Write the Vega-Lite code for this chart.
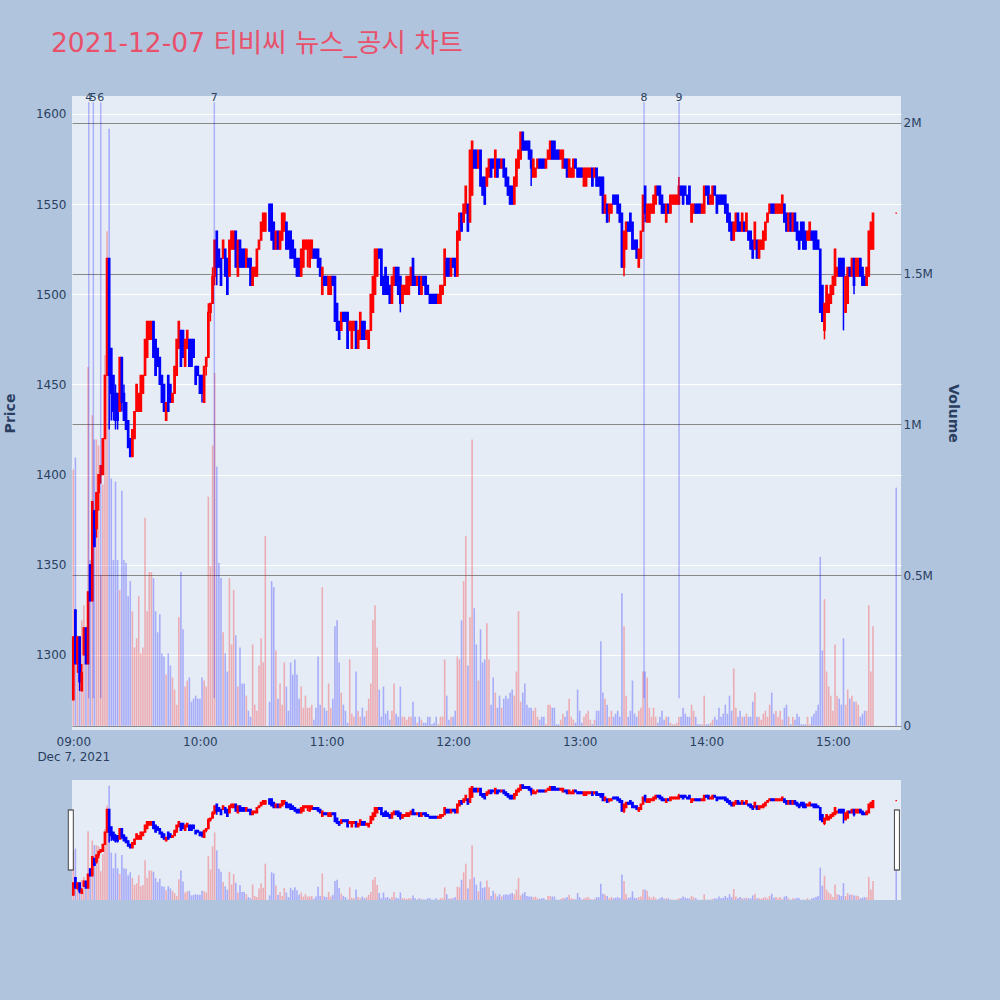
{
"$schema": "https://vega.github.io/schema/vega-lite/v6.json",
"background": "#b0c4de",
"padding": {"left": 3, "top": 30, "right": 41, "bottom": 100},
"title": {"text": "2021-12-07 티비씨 뉴스_공시 차트", "anchor": "start", "frame": "group", "dx": -21, "offset": 35, "fontSize": 26.5, "font": "DejaVu Sans, Noto Sans CJK KR", "fontWeight": "normal", "color": "#e9506a"},
"config": {
  "view": {"stroke": null, "fill": "#e5ecf6"},
  "axis": {"labelFont": "DejaVu Sans", "labelFontSize": 12, "labelColor": "#2a3f5f", "titleFont": "DejaVu Sans", "titleFontSize": 14, "titleFontWeight": "bold", "titleColor": "#2a3f5f", "domain": false, "ticks": false}
},
"bounds": "flush",
"spacing": 50,
"data": {"format": {"parse": {"t": "utc:'%H:%M'"}}, "values": [
{"t":"09:00","o":1275,"h":1310,"l":1275,"c":1310,"v":850000},
{"t":"09:01","o":1325,"h":1325,"l":1295,"c":1295,"v":890000},
{"t":"09:02","o":1295,"h":1310,"l":1290,"c":1310,"v":300000},
{"t":"09:03","o":1310,"h":1310,"l":1280,"c":1285,"v":220000},
{"t":"09:04","o":1280,"h":1295,"l":1280,"c":1290,"v":350000},
{"t":"09:05","o":1300,"h":1315,"l":1300,"c":1315,"v":400000},
{"t":"09:06","o":1315,"h":1315,"l":1295,"c":1295,"v":300000},
{"t":"09:07","o":1295,"h":1335,"l":1295,"c":1335,"v":1190000},
{"t":"09:08","o":1350,"h":1350,"l":1330,"c":1330,"v":550000},
{"t":"09:09","o":1330,"h":1385,"l":1330,"c":1385,"v":1030000},
{"t":"09:10","o":1380,"h":1380,"l":1360,"c":1360,"v":950000},
{"t":"09:11","o":1370,"h":1390,"l":1365,"c":1390,"v":950000},
{"t":"09:12","o":1390,"h":1400,"l":1380,"c":1400,"v":930000},
{"t":"09:13","o":1400,"h":1405,"l":1395,"c":1405,"v":500000},
{"t":"09:14","o":1400,"h":1420,"l":1400,"c":1420,"v":800000},
{"t":"09:15","o":1420,"h":1455,"l":1420,"c":1455,"v":1230000},
{"t":"09:16","o":1455,"h":1520,"l":1455,"c":1520,"v":1640000},
{"t":"09:17","o":1520,"h":1520,"l":1425,"c":1455,"v":1980000},
{"t":"09:18","o":1470,"h":1470,"l":1430,"c":1445,"v":820000},
{"t":"09:19","o":1455,"h":1455,"l":1430,"c":1435,"v":550000},
{"t":"09:20","o":1445,"h":1450,"l":1425,"c":1430,"v":810000},
{"t":"09:21","o":1445,"h":1445,"l":1425,"c":1430,"v":550000},
{"t":"09:22","o":1435,"h":1465,"l":1435,"c":1465,"v":450000},
{"t":"09:23","o":1465,"h":1465,"l":1435,"c":1440,"v":780000},
{"t":"09:24","o":1445,"h":1450,"l":1430,"c":1430,"v":550000},
{"t":"09:25","o":1440,"h":1440,"l":1425,"c":1425,"v":540000},
{"t":"09:26","o":1430,"h":1430,"l":1415,"c":1415,"v":430000},
{"t":"09:27","o":1420,"h":1420,"l":1410,"c":1410,"v":480000},
{"t":"09:28","o":1410,"h":1425,"l":1410,"c":1425,"v":380000},
{"t":"09:29","o":1420,"h":1435,"l":1420,"c":1435,"v":260000},
{"t":"09:30","o":1435,"h":1450,"l":1435,"c":1450,"v":290000},
{"t":"09:31","o":1435,"h":1445,"l":1435,"c":1445,"v":430000},
{"t":"09:32","o":1435,"h":1455,"l":1435,"c":1455,"v":240000},
{"t":"09:33","o":1445,"h":1455,"l":1445,"c":1455,"v":260000},
{"t":"09:34","o":1455,"h":1475,"l":1455,"c":1475,"v":690000},
{"t":"09:35","o":1465,"h":1485,"l":1465,"c":1485,"v":380000},
{"t":"09:36","o":1475,"h":1485,"l":1475,"c":1485,"v":510000},
{"t":"09:37","o":1475,"h":1485,"l":1475,"c":1485,"v":510000},
{"t":"09:38","o":1485,"h":1485,"l":1465,"c":1465,"v":490000},
{"t":"09:39","o":1475,"h":1475,"l":1455,"c":1455,"v":380000},
{"t":"09:40","o":1470,"h":1470,"l":1460,"c":1460,"v":310000},
{"t":"09:41","o":1465,"h":1465,"l":1450,"c":1450,"v":370000},
{"t":"09:42","o":1455,"h":1455,"l":1440,"c":1440,"v":240000},
{"t":"09:43","o":1450,"h":1450,"l":1435,"c":1435,"v":230000},
{"t":"09:44","o":1430,"h":1440,"l":1430,"c":1440,"v":170000},
{"t":"09:45","o":1455,"h":1455,"l":1435,"c":1435,"v":240000},
{"t":"09:46","o":1450,"h":1450,"l":1440,"c":1440,"v":200000},
{"t":"09:47","o":1440,"h":1445,"l":1440,"c":1445,"v":160000},
{"t":"09:48","o":1445,"h":1460,"l":1445,"c":1460,"v":120000},
{"t":"09:49","o":1455,"h":1475,"l":1455,"c":1475,"v":70000},
{"t":"09:50","o":1470,"h":1485,"l":1470,"c":1485,"v":360000},
{"t":"09:51","o":1480,"h":1480,"l":1460,"c":1460,"v":510000},
{"t":"09:52","o":1480,"h":1480,"l":1465,"c":1465,"v":320000},
{"t":"09:53","o":1460,"h":1475,"l":1460,"c":1475,"v":130000},
{"t":"09:54","o":1470,"h":1480,"l":1470,"c":1480,"v":150000},
{"t":"09:55","o":1475,"h":1475,"l":1460,"c":1460,"v":160000},
{"t":"09:56","o":1475,"h":1475,"l":1460,"c":1460,"v":80000},
{"t":"09:57","o":1475,"h":1475,"l":1465,"c":1465,"v":90000},
{"t":"09:58","o":1460,"h":1460,"l":1450,"c":1450,"v":100000},
{"t":"09:59","o":1460,"h":1460,"l":1455,"c":1455,"v":90000},
{"t":"10:00","o":1455,"h":1455,"l":1445,"c":1445,"v":90000},
{"t":"10:01","o":1455,"h":1455,"l":1440,"c":1445,"v":160000},
{"t":"10:02","o":1440,"h":1460,"l":1440,"c":1460,"v":150000},
{"t":"10:03","o":1460,"h":1465,"l":1455,"c":1465,"v":130000},
{"t":"10:04","o":1465,"h":1495,"l":1465,"c":1490,"v":760000},
{"t":"10:05","o":1490,"h":1495,"l":1485,"c":1495,"v":530000},
{"t":"10:06","o":1495,"h":1515,"l":1495,"c":1510,"v":930000},
{"t":"10:07","o":1510,"h":1530,"l":1505,"c":1530,"v":1170000},
{"t":"10:08","o":1535,"h":1535,"l":1505,"c":1515,"v":860000},
{"t":"10:09","o":1525,"h":1525,"l":1515,"c":1515,"v":540000},
{"t":"10:10","o":1520,"h":1520,"l":1505,"c":1505,"v":490000},
{"t":"10:11","o":1520,"h":1530,"l":1520,"c":1530,"v":310000},
{"t":"10:12","o":1525,"h":1525,"l":1510,"c":1510,"v":240000},
{"t":"10:13","o":1520,"h":1520,"l":1500,"c":1500,"v":180000},
{"t":"10:14","o":1510,"h":1530,"l":1510,"c":1530,"v":490000},
{"t":"10:15","o":1525,"h":1535,"l":1525,"c":1535,"v":270000},
{"t":"10:16","o":1525,"h":1535,"l":1525,"c":1535,"v":450000},
{"t":"10:17","o":1535,"h":1535,"l":1515,"c":1515,"v":300000},
{"t":"10:18","o":1510,"h":1530,"l":1510,"c":1530,"v":130000},
{"t":"10:19","o":1530,"h":1530,"l":1515,"c":1515,"v":260000},
{"t":"10:20","o":1525,"h":1525,"l":1515,"c":1515,"v":140000},
{"t":"10:21","o":1525,"h":1525,"l":1515,"c":1515,"v":140000},
{"t":"10:22","o":1515,"h":1525,"l":1515,"c":1525,"v":100000},
{"t":"10:23","o":1520,"h":1520,"l":1515,"c":1515,"v":50000},
{"t":"10:24","o":1520,"h":1520,"l":1505,"c":1505,"v":30000},
{"t":"10:25","o":1505,"h":1515,"l":1505,"c":1515,"v":270000},
{"t":"10:26","o":1510,"h":1515,"l":1510,"c":1515,"v":70000},
{"t":"10:27","o":1510,"h":1525,"l":1510,"c":1525,"v":50000},
{"t":"10:28","o":1525,"h":1530,"l":1525,"c":1530,"v":200000},
{"t":"10:29","o":1530,"h":1540,"l":1530,"c":1540,"v":290000},
{"t":"10:30","o":1535,"h":1545,"l":1535,"c":1545,"v":210000},
{"t":"10:31","o":1535,"h":1545,"l":1535,"c":1545,"v":630000},
{"t":"10:33","o":1550,"h":1550,"l":1535,"c":1535,"v":80000},
{"t":"10:34","o":1550,"h":1550,"l":1530,"c":1530,"v":480000},
{"t":"10:35","o":1540,"h":1540,"l":1525,"c":1525,"v":460000},
{"t":"10:36","o":1525,"h":1535,"l":1525,"c":1535,"v":250000},
{"t":"10:37","o":1535,"h":1535,"l":1525,"c":1525,"v":90000},
{"t":"10:38","o":1525,"h":1535,"l":1525,"c":1535,"v":140000},
{"t":"10:39","o":1530,"h":1545,"l":1530,"c":1545,"v":70000},
{"t":"10:40","o":1535,"h":1545,"l":1535,"c":1545,"v":210000},
{"t":"10:41","o":1540,"h":1540,"l":1525,"c":1525,"v":130000},
{"t":"10:42","o":1535,"h":1535,"l":1525,"c":1525,"v":50000},
{"t":"10:43","o":1535,"h":1535,"l":1520,"c":1520,"v":210000},
{"t":"10:44","o":1530,"h":1530,"l":1520,"c":1520,"v":170000},
{"t":"10:45","o":1525,"h":1525,"l":1515,"c":1515,"v":220000},
{"t":"10:46","o":1520,"h":1520,"l":1510,"c":1510,"v":170000},
{"t":"10:47","o":1520,"h":1520,"l":1510,"c":1510,"v":90000},
{"t":"10:48","o":1510,"h":1525,"l":1510,"c":1525,"v":130000},
{"t":"10:49","o":1515,"h":1530,"l":1515,"c":1530,"v":60000},
{"t":"10:50","o":1525,"h":1530,"l":1525,"c":1530,"v":100000},
{"t":"10:51","o":1525,"h":1530,"l":1515,"c":1530,"v":60000},
{"t":"10:52","o":1515,"h":1530,"l":1515,"c":1530,"v":60000},
{"t":"10:53","o":1520,"h":1530,"l":1520,"c":1530,"v":70000},
{"t":"10:54","o":1525,"h":1525,"l":1520,"c":1520,"v":20000},
{"t":"10:55","o":1525,"h":1525,"l":1520,"c":1520,"v":60000},
{"t":"10:56","o":1525,"h":1525,"l":1515,"c":1515,"v":230000},
{"t":"10:57","o":1520,"h":1520,"l":1510,"c":1510,"v":70000},
{"t":"10:58","o":1500,"h":1515,"l":1500,"c":1515,"v":460000},
{"t":"10:59","o":1510,"h":1510,"l":1505,"c":1505,"v":60000},
{"t":"11:00","o":1510,"h":1510,"l":1505,"c":1505,"v":50000},
{"t":"11:01","o":1500,"h":1510,"l":1500,"c":1510,"v":140000},
{"t":"11:02","o":1500,"h":1510,"l":1500,"c":1510,"v":60000},
{"t":"11:03","o":1510,"h":1510,"l":1505,"c":1505,"v":90000},
{"t":"11:04","o":1510,"h":1510,"l":1485,"c":1485,"v":330000},
{"t":"11:05","o":1495,"h":1495,"l":1480,"c":1480,"v":350000},
{"t":"11:06","o":1485,"h":1485,"l":1475,"c":1475,"v":210000},
{"t":"11:07","o":1480,"h":1490,"l":1480,"c":1490,"v":110000},
{"t":"11:08","o":1490,"h":1490,"l":1485,"c":1485,"v":70000},
{"t":"11:09","o":1490,"h":1490,"l":1485,"c":1485,"v":50000},
{"t":"11:10","o":1490,"h":1490,"l":1470,"c":1470,"v":10000},
{"t":"11:11","o":1480,"h":1485,"l":1480,"c":1485,"v":220000},
{"t":"11:12","o":1470,"h":1485,"l":1470,"c":1485,"v":40000},
{"t":"11:13","o":1480,"h":1485,"l":1480,"c":1485,"v":30000},
{"t":"11:14","o":1485,"h":1485,"l":1470,"c":1470,"v":180000},
{"t":"11:15","o":1470,"h":1480,"l":1470,"c":1480,"v":50000},
{"t":"11:16","o":1475,"h":1490,"l":1475,"c":1490,"v":30000},
{"t":"11:17","o":1485,"h":1485,"l":1475,"c":1475,"v":60000},
{"t":"11:18","o":1485,"h":1485,"l":1475,"c":1475,"v":30000},
{"t":"11:19","o":1475,"h":1480,"l":1475,"c":1480,"v":50000},
{"t":"11:20","o":1470,"h":1480,"l":1470,"c":1480,"v":90000},
{"t":"11:21","o":1480,"h":1500,"l":1480,"c":1500,"v":140000},
{"t":"11:22","o":1490,"h":1510,"l":1490,"c":1510,"v":350000},
{"t":"11:23","o":1500,"h":1525,"l":1500,"c":1525,"v":400000},
{"t":"11:24","o":1510,"h":1525,"l":1510,"c":1525,"v":260000},
{"t":"11:25","o":1525,"h":1525,"l":1520,"c":1520,"v":120000},
{"t":"11:26","o":1525,"h":1525,"l":1505,"c":1505,"v":30000},
{"t":"11:27","o":1510,"h":1510,"l":1500,"c":1500,"v":130000},
{"t":"11:28","o":1515,"h":1515,"l":1500,"c":1500,"v":40000},
{"t":"11:29","o":1510,"h":1510,"l":1500,"c":1500,"v":50000},
{"t":"11:30","o":1505,"h":1505,"l":1495,"c":1495,"v":20000},
{"t":"11:31","o":1495,"h":1510,"l":1495,"c":1510,"v":50000},
{"t":"11:32","o":1505,"h":1515,"l":1505,"c":1515,"v":140000},
{"t":"11:33","o":1515,"h":1515,"l":1505,"c":1505,"v":40000},
{"t":"11:34","o":1515,"h":1515,"l":1500,"c":1500,"v":30000},
{"t":"11:35","o":1510,"h":1510,"l":1490,"c":1495,"v":130000},
{"t":"11:36","o":1495,"h":1505,"l":1495,"c":1505,"v":30000},
{"t":"11:37","o":1500,"h":1505,"l":1500,"c":1505,"v":30000},
{"t":"11:38","o":1500,"h":1510,"l":1500,"c":1510,"v":20000},
{"t":"11:39","o":1500,"h":1510,"l":1500,"c":1510,"v":30000},
{"t":"11:40","o":1505,"h":1515,"l":1505,"c":1515,"v":30000},
{"t":"11:41","o":1520,"h":1520,"l":1505,"c":1505,"v":80000},
{"t":"11:42","o":1510,"h":1510,"l":1505,"c":1505,"v":30000},
{"t":"11:43","o":1505,"h":1510,"l":1505,"c":1510,"v":10000},
{"t":"11:44","o":1510,"h":1510,"l":1500,"c":1500,"v":30000},
{"t":"11:45","o":1500,"h":1510,"l":1500,"c":1510,"v":20000},
{"t":"11:46","o":1510,"h":1510,"l":1505,"c":1505,"v":10000},
{"t":"11:47","o":1510,"h":1510,"l":1500,"c":1500,"v":10000},
{"t":"11:48","o":1505,"h":1505,"l":1500,"c":1500,"v":30000},
{"t":"11:49","o":1500,"h":1500,"l":1495,"c":1495,"v":30000},
{"t":"11:50","o":1500,"h":1500,"l":1495,"c":1495,"v":5000},
{"t":"11:51","o":1500,"h":1500,"l":1495,"c":1495,"v":10000},
{"t":"11:52","o":1500,"h":1500,"l":1495,"c":1495,"v":30000},
{"t":"11:53","o":1495,"h":1500,"l":1495,"c":1500,"v":5000},
{"t":"11:54","o":1495,"h":1505,"l":1495,"c":1505,"v":30000},
{"t":"11:55","o":1500,"h":1505,"l":1500,"c":1505,"v":30000},
{"t":"11:56","o":1505,"h":1525,"l":1505,"c":1525,"v":220000},
{"t":"11:57","o":1520,"h":1520,"l":1510,"c":1510,"v":100000},
{"t":"11:58","o":1520,"h":1520,"l":1510,"c":1510,"v":20000},
{"t":"11:59","o":1510,"h":1520,"l":1510,"c":1520,"v":30000},
{"t":"12:00","o":1520,"h":1520,"l":1515,"c":1515,"v":30000},
{"t":"12:01","o":1520,"h":1520,"l":1510,"c":1510,"v":50000},
{"t":"12:02","o":1510,"h":1535,"l":1510,"c":1535,"v":230000},
{"t":"12:03","o":1530,"h":1545,"l":1530,"c":1545,"v":220000},
{"t":"12:04","o":1545,"h":1545,"l":1535,"c":1535,"v":350000},
{"t":"12:05","o":1540,"h":1550,"l":1540,"c":1550,"v":480000},
{"t":"12:06","o":1545,"h":1560,"l":1545,"c":1560,"v":630000},
{"t":"12:07","o":1550,"h":1550,"l":1535,"c":1535,"v":200000},
{"t":"12:08","o":1540,"h":1580,"l":1540,"c":1580,"v":360000},
{"t":"12:09","o":1555,"h":1585,"l":1555,"c":1585,"v":950000},
{"t":"12:10","o":1580,"h":1580,"l":1570,"c":1570,"v":390000},
{"t":"12:11","o":1580,"h":1580,"l":1570,"c":1570,"v":270000},
{"t":"12:12","o":1570,"h":1580,"l":1570,"c":1580,"v":150000},
{"t":"12:13","o":1580,"h":1580,"l":1560,"c":1560,"v":320000},
{"t":"12:14","o":1565,"h":1565,"l":1555,"c":1555,"v":210000},
{"t":"12:15","o":1565,"h":1565,"l":1550,"c":1550,"v":220000},
{"t":"12:16","o":1560,"h":1570,"l":1560,"c":1570,"v":340000},
{"t":"12:17","o":1565,"h":1575,"l":1565,"c":1575,"v":220000},
{"t":"12:18","o":1575,"h":1575,"l":1565,"c":1565,"v":70000},
{"t":"12:19","o":1575,"h":1575,"l":1570,"c":1570,"v":160000},
{"t":"12:20","o":1565,"h":1580,"l":1565,"c":1580,"v":110000},
{"t":"12:21","o":1575,"h":1575,"l":1565,"c":1565,"v":60000},
{"t":"12:22","o":1575,"h":1575,"l":1570,"c":1570,"v":100000},
{"t":"12:23","o":1570,"h":1575,"l":1570,"c":1575,"v":60000},
{"t":"12:24","o":1575,"h":1575,"l":1565,"c":1565,"v":90000},
{"t":"12:25","o":1570,"h":1570,"l":1560,"c":1560,"v":100000},
{"t":"12:26","o":1565,"h":1565,"l":1555,"c":1555,"v":90000},
{"t":"12:27","o":1560,"h":1560,"l":1550,"c":1550,"v":110000},
{"t":"12:28","o":1560,"h":1560,"l":1550,"c":1550,"v":120000},
{"t":"12:29","o":1550,"h":1565,"l":1550,"c":1565,"v":100000},
{"t":"12:30","o":1560,"h":1575,"l":1560,"c":1575,"v":180000},
{"t":"12:31","o":1570,"h":1580,"l":1570,"c":1580,"v":380000},
{"t":"12:32","o":1575,"h":1590,"l":1575,"c":1590,"v":80000},
{"t":"12:33","o":1590,"h":1590,"l":1580,"c":1580,"v":110000},
{"t":"12:34","o":1585,"h":1585,"l":1580,"c":1580,"v":140000},
{"t":"12:35","o":1585,"h":1585,"l":1580,"c":1580,"v":70000},
{"t":"12:36","o":1585,"h":1585,"l":1575,"c":1575,"v":60000},
{"t":"12:37","o":1580,"h":1580,"l":1560,"c":1570,"v":60000},
{"t":"12:38","o":1565,"h":1575,"l":1565,"c":1575,"v":50000},
{"t":"12:39","o":1565,"h":1570,"l":1565,"c":1570,"v":60000},
{"t":"12:40","o":1570,"h":1575,"l":1570,"c":1575,"v":30000},
{"t":"12:41","o":1575,"h":1575,"l":1570,"c":1570,"v":20000},
{"t":"12:42","o":1575,"h":1575,"l":1570,"c":1570,"v":30000},
{"t":"12:43","o":1575,"h":1575,"l":1570,"c":1570,"v":30000},
{"t":"12:44","o":1570,"h":1575,"l":1570,"c":1575,"v":5000},
{"t":"12:45","o":1575,"h":1580,"l":1575,"c":1580,"v":70000},
{"t":"12:46","o":1575,"h":1585,"l":1575,"c":1585,"v":70000},
{"t":"12:47","o":1585,"h":1585,"l":1575,"c":1575,"v":60000},
{"t":"12:48","o":1585,"h":1585,"l":1575,"c":1575,"v":60000},
{"t":"12:49","o":1580,"h":1580,"l":1575,"c":1575,"v":5000},
{"t":"12:50","o":1580,"h":1580,"l":1575,"c":1575,"v":5000},
{"t":"12:51","o":1575,"h":1580,"l":1575,"c":1580,"v":20000},
{"t":"12:52","o":1570,"h":1580,"l":1570,"c":1580,"v":40000},
{"t":"12:53","o":1575,"h":1575,"l":1570,"c":1570,"v":30000},
{"t":"12:54","o":1575,"h":1575,"l":1565,"c":1565,"v":50000},
{"t":"12:55","o":1565,"h":1575,"l":1565,"c":1575,"v":90000},
{"t":"12:56","o":1565,"h":1570,"l":1565,"c":1570,"v":30000},
{"t":"12:57","o":1565,"h":1575,"l":1565,"c":1575,"v":20000},
{"t":"12:58","o":1575,"h":1575,"l":1570,"c":1570,"v":10000},
{"t":"12:59","o":1570,"h":1570,"l":1565,"c":1565,"v":120000},
{"t":"13:00","o":1570,"h":1570,"l":1565,"c":1565,"v":50000},
{"t":"13:01","o":1570,"h":1570,"l":1565,"c":1565,"v":10000},
{"t":"13:02","o":1560,"h":1570,"l":1560,"c":1570,"v":30000},
{"t":"13:03","o":1560,"h":1570,"l":1560,"c":1570,"v":40000},
{"t":"13:04","o":1565,"h":1570,"l":1565,"c":1570,"v":50000},
{"t":"13:05","o":1565,"h":1570,"l":1565,"c":1570,"v":20000},
{"t":"13:06","o":1570,"h":1570,"l":1560,"c":1560,"v":5000},
{"t":"13:07","o":1565,"h":1570,"l":1565,"c":1570,"v":20000},
{"t":"13:08","o":1570,"h":1570,"l":1560,"c":1560,"v":50000},
{"t":"13:09","o":1565,"h":1565,"l":1560,"c":1560,"v":50000},
{"t":"13:10","o":1565,"h":1565,"l":1555,"c":1555,"v":280000},
{"t":"13:11","o":1565,"h":1565,"l":1545,"c":1545,"v":110000},
{"t":"13:12","o":1545,"h":1555,"l":1545,"c":1555,"v":90000},
{"t":"13:13","o":1550,"h":1550,"l":1540,"c":1540,"v":70000},
{"t":"13:14","o":1545,"h":1550,"l":1540,"c":1550,"v":30000},
{"t":"13:15","o":1545,"h":1550,"l":1545,"c":1550,"v":50000},
{"t":"13:16","o":1555,"h":1555,"l":1550,"c":1550,"v":30000},
{"t":"13:17","o":1555,"h":1555,"l":1550,"c":1550,"v":40000},
{"t":"13:18","o":1555,"h":1555,"l":1545,"c":1545,"v":50000},
{"t":"13:19","o":1550,"h":1550,"l":1540,"c":1540,"v":30000},
{"t":"13:20","o":1545,"h":1545,"l":1515,"c":1515,"v":440000},
{"t":"13:21","o":1515,"h":1535,"l":1510,"c":1535,"v":330000},
{"t":"13:22","o":1525,"h":1540,"l":1525,"c":1540,"v":100000},
{"t":"13:23","o":1540,"h":1540,"l":1535,"c":1535,"v":30000},
{"t":"13:24","o":1545,"h":1545,"l":1535,"c":1535,"v":50000},
{"t":"13:25","o":1540,"h":1540,"l":1525,"c":1525,"v":150000},
{"t":"13:26","o":1530,"h":1530,"l":1525,"c":1525,"v":40000},
{"t":"13:27","o":1530,"h":1530,"l":1520,"c":1520,"v":30000},
{"t":"13:28","o":1515,"h":1525,"l":1515,"c":1525,"v":50000},
{"t":"13:29","o":1520,"h":1535,"l":1520,"c":1535,"v":60000},
{"t":"13:30","o":1535,"h":1555,"l":1535,"c":1555,"v":180000},
{"t":"13:31","o":1560,"h":1560,"l":1540,"c":1545,"v":180000},
{"t":"13:32","o":1540,"h":1550,"l":1540,"c":1550,"v":160000},
{"t":"13:33","o":1540,"h":1550,"l":1540,"c":1550,"v":60000},
{"t":"13:34","o":1545,"h":1550,"l":1545,"c":1550,"v":30000},
{"t":"13:35","o":1545,"h":1555,"l":1545,"c":1555,"v":60000},
{"t":"13:36","o":1550,"h":1560,"l":1550,"c":1560,"v":30000},
{"t":"13:37","o":1560,"h":1560,"l":1555,"c":1555,"v":10000},
{"t":"13:38","o":1560,"h":1560,"l":1550,"c":1550,"v":30000},
{"t":"13:39","o":1555,"h":1555,"l":1545,"c":1545,"v":50000},
{"t":"13:40","o":1550,"h":1550,"l":1545,"c":1545,"v":20000},
{"t":"13:41","o":1540,"h":1550,"l":1540,"c":1550,"v":30000},
{"t":"13:42","o":1550,"h":1550,"l":1545,"c":1545,"v":30000},
{"t":"13:43","o":1545,"h":1555,"l":1545,"c":1555,"v":10000},
{"t":"13:44","o":1550,"h":1555,"l":1550,"c":1555,"v":5000},
{"t":"13:45","o":1550,"h":1555,"l":1550,"c":1555,"v":5000},
{"t":"13:46","o":1550,"h":1555,"l":1550,"c":1555,"v":10000},
{"t":"13:47","o":1550,"h":1565,"l":1550,"c":1560,"v":30000},
{"t":"13:48","o":1560,"h":1560,"l":1555,"c":1555,"v":30000},
{"t":"13:49","o":1560,"h":1560,"l":1550,"c":1550,"v":60000},
{"t":"13:50","o":1560,"h":1560,"l":1555,"c":1555,"v":40000},
{"t":"13:51","o":1555,"h":1555,"l":1550,"c":1550,"v":30000},
{"t":"13:52","o":1560,"h":1560,"l":1550,"c":1550,"v":30000},
{"t":"13:53","o":1540,"h":1550,"l":1540,"c":1550,"v":70000},
{"t":"13:54","o":1545,"h":1550,"l":1545,"c":1550,"v":50000},
{"t":"13:55","o":1550,"h":1550,"l":1545,"c":1545,"v":30000},
{"t":"13:56","o":1550,"h":1550,"l":1545,"c":1545,"v":5000},
{"t":"13:57","o":1550,"h":1550,"l":1545,"c":1545,"v":5000},
{"t":"13:58","o":1545,"h":1550,"l":1545,"c":1550,"v":5000},
{"t":"13:59","o":1545,"h":1560,"l":1545,"c":1560,"v":100000},
{"t":"14:00","o":1560,"h":1560,"l":1555,"c":1555,"v":5000},
{"t":"14:01","o":1560,"h":1560,"l":1550,"c":1550,"v":5000},
{"t":"14:02","o":1550,"h":1555,"l":1550,"c":1555,"v":10000},
{"t":"14:03","o":1550,"h":1560,"l":1550,"c":1560,"v":20000},
{"t":"14:04","o":1560,"h":1560,"l":1555,"c":1555,"v":30000},
{"t":"14:05","o":1555,"h":1555,"l":1545,"c":1545,"v":20000},
{"t":"14:06","o":1555,"h":1555,"l":1550,"c":1550,"v":60000},
{"t":"14:07","o":1555,"h":1555,"l":1550,"c":1550,"v":30000},
{"t":"14:08","o":1555,"h":1555,"l":1550,"c":1550,"v":40000},
{"t":"14:09","o":1555,"h":1555,"l":1545,"c":1545,"v":70000},
{"t":"14:10","o":1550,"h":1550,"l":1540,"c":1540,"v":40000},
{"t":"14:11","o":1545,"h":1545,"l":1535,"c":1535,"v":100000},
{"t":"14:12","o":1540,"h":1540,"l":1530,"c":1530,"v":50000},
{"t":"14:13","o":1530,"h":1540,"l":1530,"c":1540,"v":190000},
{"t":"14:14","o":1535,"h":1545,"l":1535,"c":1545,"v":60000},
{"t":"14:15","o":1545,"h":1545,"l":1535,"c":1535,"v":30000},
{"t":"14:16","o":1540,"h":1540,"l":1535,"c":1535,"v":50000},
{"t":"14:17","o":1535,"h":1545,"l":1535,"c":1545,"v":30000},
{"t":"14:18","o":1540,"h":1540,"l":1535,"c":1535,"v":30000},
{"t":"14:19","o":1535,"h":1545,"l":1535,"c":1545,"v":40000},
{"t":"14:20","o":1535,"h":1535,"l":1530,"c":1530,"v":30000},
{"t":"14:21","o":1535,"h":1535,"l":1525,"c":1525,"v":30000},
{"t":"14:22","o":1530,"h":1530,"l":1520,"c":1520,"v":80000},
{"t":"14:23","o":1525,"h":1540,"l":1525,"c":1540,"v":110000},
{"t":"14:24","o":1530,"h":1530,"l":1520,"c":1520,"v":30000},
{"t":"14:25","o":1520,"h":1530,"l":1520,"c":1530,"v":30000},
{"t":"14:26","o":1525,"h":1530,"l":1525,"c":1530,"v":20000},
{"t":"14:27","o":1525,"h":1535,"l":1525,"c":1535,"v":40000},
{"t":"14:28","o":1530,"h":1540,"l":1530,"c":1540,"v":50000},
{"t":"14:29","o":1540,"h":1545,"l":1540,"c":1545,"v":30000},
{"t":"14:30","o":1545,"h":1550,"l":1545,"c":1550,"v":70000},
{"t":"14:31","o":1550,"h":1550,"l":1545,"c":1545,"v":110000},
{"t":"14:32","o":1550,"h":1550,"l":1545,"c":1545,"v":40000},
{"t":"14:33","o":1545,"h":1550,"l":1545,"c":1550,"v":50000},
{"t":"14:34","o":1545,"h":1550,"l":1545,"c":1550,"v":30000},
{"t":"14:35","o":1545,"h":1550,"l":1545,"c":1550,"v":50000},
{"t":"14:36","o":1545,"h":1555,"l":1545,"c":1555,"v":20000},
{"t":"14:37","o":1550,"h":1550,"l":1540,"c":1540,"v":60000},
{"t":"14:38","o":1545,"h":1545,"l":1535,"c":1535,"v":70000},
{"t":"14:39","o":1535,"h":1545,"l":1535,"c":1545,"v":30000},
{"t":"14:40","o":1545,"h":1545,"l":1535,"c":1535,"v":5000},
{"t":"14:41","o":1535,"h":1545,"l":1535,"c":1545,"v":30000},
{"t":"14:42","o":1545,"h":1545,"l":1535,"c":1535,"v":20000},
{"t":"14:43","o":1540,"h":1540,"l":1530,"c":1530,"v":40000},
{"t":"14:44","o":1535,"h":1535,"l":1525,"c":1525,"v":30000},
{"t":"14:45","o":1540,"h":1540,"l":1530,"c":1530,"v":5000},
{"t":"14:46","o":1540,"h":1540,"l":1525,"c":1525,"v":5000},
{"t":"14:47","o":1535,"h":1535,"l":1525,"c":1525,"v":5000},
{"t":"14:48","o":1530,"h":1535,"l":1530,"c":1535,"v":30000},
{"t":"14:49","o":1530,"h":1540,"l":1530,"c":1540,"v":5000},
{"t":"14:50","o":1535,"h":1535,"l":1530,"c":1530,"v":30000},
{"t":"14:51","o":1535,"h":1535,"l":1525,"c":1525,"v":40000},
{"t":"14:52","o":1535,"h":1535,"l":1525,"c":1525,"v":50000},
{"t":"14:53","o":1530,"h":1530,"l":1525,"c":1525,"v":70000},
{"t":"14:54","o":1525,"h":1525,"l":1490,"c":1490,"v":560000},
{"t":"14:55","o":1505,"h":1505,"l":1485,"c":1485,"v":250000},
{"t":"14:56","o":1480,"h":1495,"l":1475,"c":1495,"v":420000},
{"t":"14:57","o":1490,"h":1505,"l":1490,"c":1505,"v":180000},
{"t":"14:58","o":1490,"h":1500,"l":1490,"c":1500,"v":130000},
{"t":"14:59","o":1495,"h":1505,"l":1495,"c":1505,"v":100000},
{"t":"15:00","o":1500,"h":1510,"l":1500,"c":1510,"v":50000},
{"t":"15:01","o":1505,"h":1525,"l":1505,"c":1525,"v":270000},
{"t":"15:02","o":1510,"h":1515,"l":1510,"c":1515,"v":100000},
{"t":"15:03","o":1520,"h":1520,"l":1510,"c":1510,"v":90000},
{"t":"15:04","o":1520,"h":1520,"l":1510,"c":1510,"v":70000},
{"t":"15:05","o":1520,"h":1520,"l":1480,"c":1510,"v":290000},
{"t":"15:06","o":1490,"h":1510,"l":1490,"c":1510,"v":70000},
{"t":"15:07","o":1495,"h":1515,"l":1495,"c":1515,"v":120000},
{"t":"15:08","o":1515,"h":1515,"l":1510,"c":1510,"v":90000},
{"t":"15:09","o":1510,"h":1520,"l":1510,"c":1520,"v":100000},
{"t":"15:10","o":1520,"h":1520,"l":1500,"c":1505,"v":80000},
{"t":"15:11","o":1510,"h":1520,"l":1510,"c":1520,"v":80000},
{"t":"15:12","o":1510,"h":1520,"l":1510,"c":1520,"v":70000},
{"t":"15:13","o":1520,"h":1520,"l":1510,"c":1510,"v":30000},
{"t":"15:14","o":1515,"h":1515,"l":1505,"c":1505,"v":40000},
{"t":"15:15","o":1510,"h":1510,"l":1505,"c":1505,"v":50000},
{"t":"15:16","o":1505,"h":1515,"l":1505,"c":1515,"v":50000},
{"t":"15:17","o":1510,"h":1535,"l":1510,"c":1535,"v":400000},
{"t":"15:18","o":1525,"h":1540,"l":1525,"c":1540,"v":180000},
{"t":"15:19","o":1525,"h":1545,"l":1525,"c":1545,"v":330000},
{"t":"15:30","o":1545,"h":1545,"l":1545,"c":1545,"v":790000}
]},
"vconcat": [
{
  "width": 829, "height": 634,
  "encoding": {"x": {"field": "t", "type": "temporal",
    "scale": {"type": "utc", "nice": false, "padding": 0, "domain": [{"year":1900,"month":1,"date":1,"hours":8,"minutes":59,"seconds":23,"utc":true},{"year":1900,"month":1,"date":1,"hours":15,"minutes":32,"seconds":16,"utc":true}]},
    "axis": {"title": null, "grid": false, "labelPadding": 6, "labelFlush": false, "labelOverlap": false, "labelLineHeight": 15,
      "values": [{"year":1900,"month":1,"date":1,"hours":9,"utc":true},{"year":1900,"month":1,"date":1,"hours":10,"utc":true},{"year":1900,"month":1,"date":1,"hours":11,"utc":true},{"year":1900,"month":1,"date":1,"hours":12,"utc":true},{"year":1900,"month":1,"date":1,"hours":13,"utc":true},{"year":1900,"month":1,"date":1,"hours":14,"utc":true},{"year":1900,"month":1,"date":1,"hours":15,"utc":true}],
      "labelExpr": "datum.index == 0 ? [utcFormat(datum.value, '%H:%M'), 'Dec 7, 2021'] : utcFormat(datum.value, '%H:%M')"}}},
  "layer": [
    {"mark": {"type": "bar", "size": 1.6, "opacity": 0.27},
     "encoding": {
       "y": {"field": "v", "type": "quantitative", "title": "Volume",
         "scale": {"domain": [-14000, 2089000], "nice": false, "zero": false},
         "axis": {"orient": "right", "values": [0, 500000, 1000000, 1500000, 2000000], "labelExpr": "datum.value == 0 ? '0' : format(datum.value / 1000000, '~g') + 'M'", "grid": true, "gridColor": "#888888", "gridWidth": 1, "labelPadding": 2, "titlePadding": 13}},
       "color": {"condition": {"test": "datum.c > datum.o", "value": "#ff0000"}, "value": "#0000ff"}}},
    {"layer": [
      {"mark": {"type": "rule", "strokeWidth": 1.5},
       "encoding": {
         "y": {"field": "l", "type": "quantitative", "title": "Price",
           "scale": {"domain": [1258.35, 1609.98], "nice": false, "zero": false},
           "axis": {"orient": "left", "values": [1300, 1350, 1400, 1450, 1500, 1550, 1600], "format": "d", "grid": true, "gridColor": "#ffffff", "gridWidth": 1, "labelPadding": 6, "titlePadding": 17.5}},
         "y2": {"field": "h"},
         "color": {"condition": {"test": "datum.c >= datum.o", "value": "#ff0000"}, "value": "#0000ff"}}},
      {"mark": {"type": "bar", "size": 1.5, "strokeWidth": 1.2},
       "encoding": {
         "y": {"field": "o", "type": "quantitative", "title": "Price",
           "scale": {"domain": [1258.35, 1609.98], "nice": false, "zero": false},
           "axis": {"orient": "left", "values": [1300, 1350, 1400, 1450, 1500, 1550, 1600], "format": "d", "grid": true, "gridColor": "#ffffff", "gridWidth": 1, "labelPadding": 6, "titlePadding": 17.5}},
         "y2": {"field": "c"},
         "color": {"condition": {"test": "datum.c >= datum.o", "value": "#ff0000"}, "value": "#0000ff"},
         "stroke": {"condition": {"test": "datum.c >= datum.o", "value": "#ff0000"}, "value": "#0000ff"}}}
    ]},
    {"data": {"format": {"parse": {"t": "utc:'%H:%M:%S'"}}, "values": [
      {"n": "4", "t": "09:07:20"}, {"n": "5", "t": "09:09:30"}, {"n": "6", "t": "09:13:00"},
      {"n": "7", "t": "10:06:50"}, {"n": "8", "t": "13:30:30"}, {"n": "9", "t": "13:47:05"}]},
     "layer": [
       {"mark": {"type": "rule", "color": "#0000ff", "opacity": 0.25, "strokeWidth": 1.5},
        "encoding": {"y": {"datum": 0.05, "type": "quantitative", "scale": {"domain": [0, 1], "nice": false}, "axis": null}, "y2": {"datum": 0.99}}},
       {"mark": {"type": "text", "font": "DejaVu Sans", "fontSize": 11, "color": "#2a3f5f", "baseline": "alphabetic", "dy": -1},
        "encoding": {"y": {"datum": 0.99, "type": "quantitative", "scale": {"domain": [0, 1], "nice": false}, "axis": null}, "text": {"field": "n"}}}
     ]}
  ],
  "resolve": {"scale": {"y": "independent"}, "axis": {"y": "independent"}}
},
{
  "width": 829, "height": 120,
  "encoding": {"x": {"field": "t", "type": "temporal",
    "scale": {"type": "utc", "nice": false, "padding": 0, "domain": [{"year":1900,"month":1,"date":1,"hours":8,"minutes":59,"seconds":23,"utc":true},{"year":1900,"month":1,"date":1,"hours":15,"minutes":32,"seconds":16,"utc":true}]},
    "axis": null}},
  "layer": [
    {"mark": {"type": "bar", "size": 1.6, "opacity": 0.27},
     "encoding": {
       "y": {"field": "v", "type": "quantitative", "scale": {"domain": [0, 2080000], "nice": false}, "axis": null},
       "color": {"condition": {"test": "datum.c > datum.o", "value": "#ff0000"}, "value": "#0000ff"}}},
    {"layer": [
      {"mark": {"type": "rule", "strokeWidth": 1.5},
       "encoding": {
         "y": {"field": "l", "type": "quantitative", "scale": {"domain": [1261, 1604], "nice": false, "zero": false}, "axis": null},
         "y2": {"field": "h"},
         "color": {"condition": {"test": "datum.c >= datum.o", "value": "#ff0000"}, "value": "#0000ff"}}},
      {"mark": {"type": "bar", "size": 1.5, "strokeWidth": 1.2},
       "encoding": {
         "y": {"field": "o", "type": "quantitative", "scale": {"domain": [1261, 1604], "nice": false, "zero": false}, "axis": null},
         "y2": {"field": "c"},
         "color": {"condition": {"test": "datum.c >= datum.o", "value": "#ff0000"}, "value": "#0000ff"},
         "stroke": {"condition": {"test": "datum.c >= datum.o", "value": "#ff0000"}, "value": "#0000ff"}}}
    ]},
    {"layer": [
       {"transform": [{"aggregate": [{"op": "min", "field": "t", "as": "t0"}]}],
        "mark": {"type": "rule", "strokeWidth": 6, "color": "#444444", "xOffset": -2.5},
        "encoding": {
          "x": {"field": "t0", "type": "temporal"},
          "y": {"datum": 0.245, "type": "quantitative", "scale": {"domain": [0, 1], "nice": false}, "axis": null},
          "y2": {"datum": 0.755}}},
       {"transform": [{"aggregate": [{"op": "min", "field": "t", "as": "t0"}]}],
        "mark": {"type": "rule", "strokeWidth": 4, "color": "#ffffff", "xOffset": -2.5},
        "encoding": {
          "x": {"field": "t0", "type": "temporal"},
          "y": {"datum": 0.255, "type": "quantitative"},
          "y2": {"datum": 0.745}}},
       {"transform": [{"aggregate": [{"op": "max", "field": "t", "as": "t1"}]}],
        "mark": {"type": "rule", "strokeWidth": 6, "color": "#444444", "xOffset": 0.7},
        "encoding": {
          "x": {"field": "t1", "type": "temporal"},
          "y": {"datum": 0.245, "type": "quantitative"},
          "y2": {"datum": 0.755}}},
       {"transform": [{"aggregate": [{"op": "max", "field": "t", "as": "t1"}]}],
        "mark": {"type": "rule", "strokeWidth": 4, "color": "#ffffff", "xOffset": 0.7},
        "encoding": {
          "x": {"field": "t1", "type": "temporal"},
          "y": {"datum": 0.255, "type": "quantitative"},
          "y2": {"datum": 0.745}}}
     ]}
  ],
  "resolve": {"scale": {"y": "independent"}}
}
]
}
